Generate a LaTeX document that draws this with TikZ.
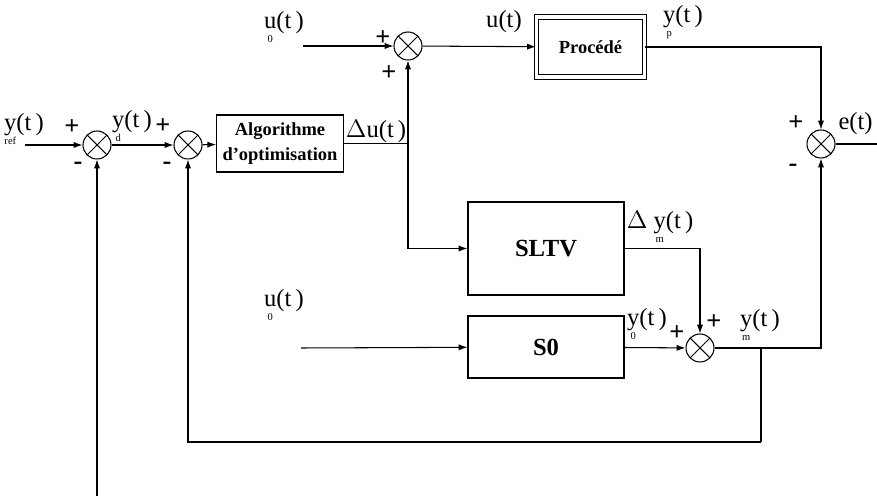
\documentclass[tikz,border=0pt]{standalone}
\usepackage{fontspec}
\setmainfont{Liberation Serif}
\usetikzlibrary{arrows.meta}

\tikzset{
  sum/.style={circle, draw, minimum size=0.56cm, inner sep=0pt,
    path picture={\draw (path picture bounding box.north west) -- (path picture bounding box.south east)
                        (path picture bounding box.north east) -- (path picture bounding box.south west);}},
  bloc/.style={draw, align=center, font=\bfseries\fontsize{10.5}{14}\selectfont},
  lbl/.style={inner sep=0pt, font=\fontsize{14}{16}\selectfont},
  sgn/.style={inner sep=0pt, font=\fontsize{15}{16}\selectfont\bfseries},
  >={Latex[length=5pt,width=3.5pt]}
}
% signal avec indice sous la lettre
\newcommand{\sig}[2]{\setbox0=\hbox{#1}\rlap{\hbox to \wd0{\hss\raisebox{-1.2ex}{\fontsize{6}{7}\selectfont #2}\hss}}\box0(t\,)}

\begin{document}
\begin{tikzpicture}[x=0.02cm, y=-0.02cm, line width=0.6pt]
  \useasboundingbox (0,0) rectangle (877,496);
  % Sommateurs
  \node[sum] (s1) at (97,145) {};
  \node[sum] (s2) at (188,145) {};
  \node[sum] (s3) at (408,46) {};
  \node[sum] (s4) at (821,144) {};
  \node[sum] (s5) at (700,348) {};
  % Blocs
  \node[bloc, minimum width=2.4cm, minimum height=1.14cm] (algo) at (280,143.5) {Algorithme\\d'optimisation};
  \node[bloc, double, double distance=1.8pt, minimum width=2.16cm, minimum height=1.2cm] (proc) at (590.5,47) {Procédé};
  \node[bloc, minimum width=3.12cm, minimum height=1.86cm, font=\bfseries\fontsize{14}{16}\selectfont] (sltv) at (546,248.5) {SLTV};
  \node[bloc, minimum width=3.12cm, minimum height=1.24cm, font=\bfseries\fontsize{14}{16}\selectfont] (s0) at (546,347) {S0};
  % Points libres
  \coordinate (yref) at (25,145);
  \coordinate (u0a) at (303,46);
  \coordinate (u0b) at (301,348);
  \coordinate (eout) at (877,144);
  \coordinate (bas) at (97,496.5);
  \coordinate (basd) at (877,496.5);
  \coordinate (ym) at (761,348);
  \coordinate (retour) at (761,442);
  % Liaisons
  \draw[->] (yref) -- (s1);
  \draw[->] (s1) -- (s2);
  \draw[->] (s2) -- (algo);
  \draw (algo.east) -- (algo.east -| s3);
  \draw[->] (algo.east -| s3) -- (s3);
  \draw[->] (algo.east -| s3) |- (sltv.west);
  \draw[->] (u0a) -- (s3);
  \draw[->] (s3) -- (proc);
  \draw[->] (proc.east) -| (s4);
  \draw (s4) -- (eout);
  \draw[->] (u0b) -- (s0);
  \draw[->] (s0) -- (s5);
  \draw[->] (sltv.east) -| (s5);
  \draw[->] (s5) -| (s4);
  \draw (ym) -- (retour);
  \draw[->] (retour) -| (s2);
  \draw (basd) -- (bas);
  \draw[->] (bas) -- (s1);
  % Etiquettes
  \node[lbl] (lyref) at (24,129) {\sig{y}{ref}};
  \node[sgn] (p1) at (72,127) {+};
  \node[sgn] (m1) at (78,166) {-};
  \node[lbl] (lyd) at (132,126) {\sig{y}{d}};
  \node[sgn] (p2) at (163,126) {+};
  \node[sgn] (m2) at (167,166) {-};
  \node[lbl] (ldu) at (376,131) {$\Delta$u(t\,)};
  \node[lbl] (lu0a) at (284,27) {\sig{u}{0}};
  \node[sgn] (p3) at (383,38) {+};
  \node[sgn] (p4) at (389,73) {+};
  \node[lbl] (lu) at (504,22) {u(t)};
  \node[lbl] (lyp) at (683,22) {\sig{y}{p}};
  \node[sgn] (p5) at (796,123) {+};
  \node[sgn] (m5) at (793,168) {-};
  \node[lbl, anchor=west] (le) at (838,124) {e(t)};
  \node[lbl] (ldym) at (660,227) {$\Delta$ \sig{y}{m}};
  \node[lbl] (lu0b) at (284,305) {\sig{u}{0}};
  \node[lbl] (ly0) at (647,324) {\sig{y}{0}};
  \node[sgn] (p6) at (677,333) {+};
  \node[sgn] (p7) at (714,322) {+};
  \node[lbl] (lym) at (760,325) {\sig{y}{m}};
\end{tikzpicture}
\end{document}
